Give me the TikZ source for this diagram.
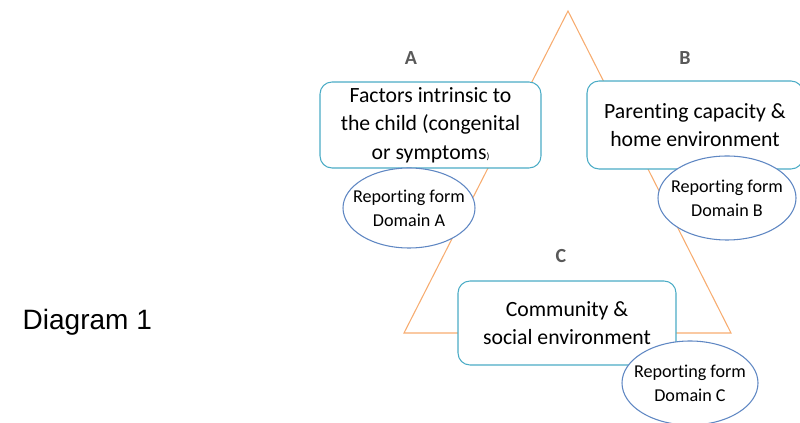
\documentclass[tikz,border=0pt]{standalone}
\usepackage{fontspec}
\setmainfont{Carlito}[Ligatures=NoCommon]
\newfontfamily\arialfont{Liberation Sans}
\definecolor{triorange}{RGB}{247,172,112}
\definecolor{boxblue}{RGB}{75,172,198}
\definecolor{ovalblue}{RGB}{95,135,195}
\definecolor{labgray}{RGB}{89,89,89}
\begin{document}
\begin{tikzpicture}[x=0.75pt,y=-0.75pt,
	domainbox/.style={draw=boxblue, line width=0.8pt, fill=white, rounded corners=9pt, align=center, inner sep=0pt, font=\fontsize{16.3}{21.5}\selectfont},
	formoval/.style={draw=ovalblue, line width=0.8pt, fill=white},
	formtext/.style={align=center, inner sep=0pt, font=\fontsize{13.6}{18}\selectfont},
	domainlab/.style={text=labgray, font=\fontsize{15}{17}\selectfont\bfseries}]
	\useasboundingbox (0,0) rectangle (800,423);

	\node[font=\arialfont\fontsize{21}{25}\selectfont, anchor=west] (title) at (18,322) {Diagram 1};

	\draw[triorange, line width=0.8pt] (568,11) -- (404,333) -- (731,333) -- cycle;

	\node[domainlab] (labA) at (411,58) {A};
	\node[domainlab] (labB) at (685,58) {B};
	\node[domainlab] (labC) at (561,256) {C};

	\node[domainbox, minimum width=165.75pt, minimum height=64.5pt] (boxA) at (430.5,125) {Factors intrinsic to\\the child (congenital\\or symptoms{\scriptsize)}};
	\node[domainbox, minimum width=162pt, minimum height=66pt] (boxB) at (695,125) {Parenting capacity \&\\home environment};
	\node[domainbox, minimum width=163.5pt, minimum height=63pt] (boxC) at (567,323) {Community \&\\social environment};

	% reporting forms
	\coordinate (ovalA) at (409,208);
	\coordinate (ovalB) at (727,198);
	\coordinate (ovalC) at (690,383);
	\draw[formoval] (ovalA) ellipse [x radius=66, y radius=40];
	\draw[formoval] (ovalB) ellipse [x radius=69, y radius=42];
	\draw[formoval] (ovalC) ellipse [x radius=68, y radius=42];
	\node[formtext] (formA) at (ovalA) {Reporting form\\Domain A};
	\node[formtext] (formB) at (ovalB) {Reporting form\\Domain B};
	\node[formtext] (formC) at (ovalC) {Reporting form\\Domain C};
\end{tikzpicture}
\end{document}
